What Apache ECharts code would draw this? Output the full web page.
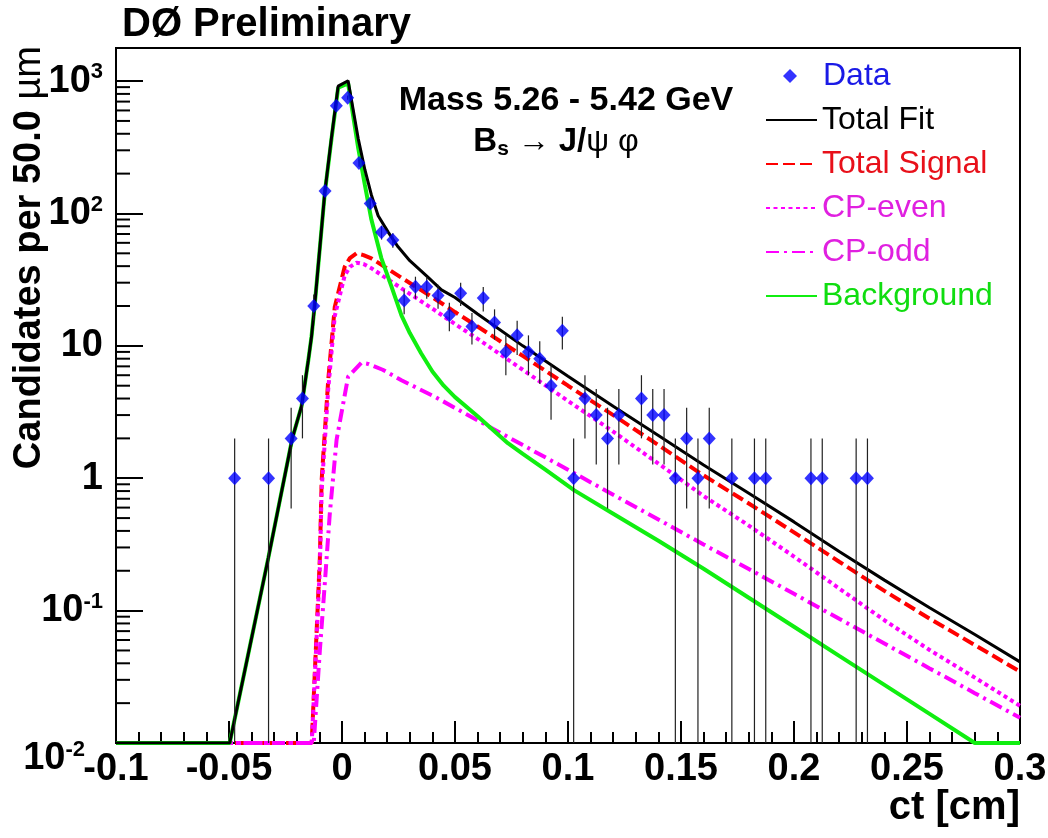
<!DOCTYPE html>
<html><head><meta charset="utf-8">
<script src="https://cdn.jsdelivr.net/npm/echarts@6/dist/echarts.min.js"></script>
<style>html,body{margin:0;padding:0;background:#fff}#c{width:1048px;height:838px}</style>
</head><body><div id="c"></div>
<script>
// ---- data ----
const dataX = [-0.0475,-0.0325,-0.0225,-0.0175,-0.0125,-0.0075,-0.0025,0.0025,0.0075,0.0125,0.0175,0.0225,0.0275,0.0325,0.0375,0.0425,0.0475,0.0525,0.0575,0.0625,0.0675,0.0725,0.0775,0.0825,0.0875,0.0925,0.0975,0.1025,0.1075,0.1125,0.1175,0.1225,0.1325,0.1375,0.1425,0.1475,0.1525,0.1575,0.1625,0.1725,0.1825,0.1875,0.2075,0.2125,0.2275,0.2325];
const dataY = [1,1,2,4,20,148,650,750,241,119,72,63,22,28,28,24,17,25,14,23,15,9,12,9,8,5,13,1,4,3,2,3,4,3,3,1,2,1,2,1,1,1,1,1,1,1];
const dataErr = [1,1,1.41,2,4.47,12.17,25.5,27.39,15.52,10.91,8.49,7.94,4.69,5.29,5.29,4.9,4.12,5,3.74,4.8,3.87,3,3.46,3,2.83,2.24,3.61,1,2,1.73,1.41,1.73,2,1.73,1.73,1,1.41,1,1.41,1,1,1,1,1,1,1];

const fitX = [-0.1,-0.0497,-0.0326,-0.022,-0.0179,-0.0149,-0.0135,-0.012,-0.0076,-0.0046,-0.0017,0.0027,0.0072,0.0101,0.013,0.016,0.0205,0.0248,0.03,0.038,0.044,0.05,0.06,0.08,0.1,0.12,0.14,0.16,0.18,0.2,0.22,0.24,0.26,0.28,0.3];
const fitY = [0.01,0.01,0.25,2.0,3.5,7.8,11.7,21,145,380,916,1005,366,215,138,96,72,56,44,33,26.5,23.2,17.4,10,5.9,3.5,2.1,1.26,0.77,0.468,0.28,0.17,0.105,0.066,0.041];

const sigX = [-0.1,-0.0134,-0.0098,-0.009,-0.0061,-0.0032,0.0012,0.0035,0.0064,0.0095,0.013,0.018,0.0263,0.041,0.05,0.06,0.08,0.1,0.12,0.14,0.16,0.18,0.2,0.22,0.24,0.26,0.28,0.3];
const sigY = [0.01,0.01,0.25,0.97,5.5,19.7,39.6,46,50,48.5,45.8,40.4,32.7,22.7,18.0,14.0,8.4,5.0,3.0,1.78,1.05,0.645,0.39,0.234,0.141,0.087,0.055,0.0346];

const evenX = [-0.1,-0.0134,-0.0098,-0.009,-0.0061,-0.0032,0.0012,0.0035,0.0064,0.0095,0.013,0.018,0.0263,0.041,0.05,0.06,0.08,0.1,0.12,0.14,0.16,0.18,0.2,0.22,0.24,0.26,0.28,0.3];
const evenY = [0.01,0.01,0.21,0.82,4.7,16.8,34,39.5,42.5,41.5,38.6,33.8,27.2,18.6,14.6,11.3,6.6,3.84,2.25,1.29,0.734,0.439,0.256,0.147,0.0846,0.0504,0.0312,0.0191];

const oddX = [-0.1,-0.0125,-0.0098,-0.0075,-0.0054,-0.0024,0.0027,0.0086,0.0116,0.018,0.0263,0.041,0.05,0.06,0.08,0.1,0.12,0.14,0.16,0.18,0.2,0.22,0.24,0.26,0.28,0.3];
const oddY = [0.01,0.01,0.05,0.17,0.54,1.95,5.85,7.45,7.3,6.6,5.5,4.13,3.4,2.74,1.78,1.16,0.75,0.488,0.316,0.206,0.134,0.0867,0.0564,0.0366,0.0238,0.0155];

const bkgX = [-0.1,-0.0497,-0.0326,-0.022,-0.0179,-0.0149,-0.0135,-0.012,-0.0076,-0.0046,-0.0017,0.0027,0.0072,0.0101,0.013,0.0174,0.0219,0.0263,0.03,0.035,0.04,0.045,0.05,0.06,0.0734,0.08,0.09,0.1028,0.12,0.14,0.16,0.18,0.2,0.22,0.24,0.26,0.28,0.3];
const bkgY = [0.01,0.01,0.25,2.0,3.5,7.8,11.7,21,144,372,890,960,310,165,90,46,28,17,12.5,8.8,6.4,5.0,4.1,2.94,1.84,1.53,1.16,0.81,0.54,0.337,0.207,0.125,0.0755,0.0455,0.0275,0.0166,0.01,0.01];

const yMinorTicks = [0.02,0.03,0.04,0.05,0.06,0.07,0.08,0.09,0.2,0.3,0.4,0.5,0.6,0.7,0.8,0.9,2,3,4,5,6,7,8,9,20,30,40,50,60,70,80,90,200,300,400,500,600,700,800,900];

const X_MIN = -0.1, X_MAX = 0.3, Y_MIN = 0.01, Y_MAX = 1778;
const FONT = '"Liberation Sans", Arial, Helvetica, sans-serif';

const COL = {data:'#0000ff', fit:'#000000', sig:'#ff0000', cp:'#ff00ff', bkg:'#10ee10'};

function pairs(xs, ys){ return xs.map(function(x,i){ return [x, ys[i]]; }); }

const chart = echarts.init(document.getElementById('c'), null, {renderer:'canvas'});

function lineSeries(name, xs, ys, color, width, type){
  return {name:name, type:'line', data:pairs(xs, ys), symbol:'none', showSymbol:false,
    smooth:false, clip:true, z:2,
    lineStyle:{color:color, width:width, type:type, cap:'butt'}, itemStyle:{color:color}};
}
const noSym = {opacity:0};
const legendText = {fontSize:32, fontFamily:FONT, lineHeight:32};

const option = {
  animation:false,
  backgroundColor:'#ffffff',
  grid:{left:116, right:28, top:48, bottom:95, containLabel:false, outerBoundsMode:'none',
    show:true, borderColor:'#000', borderWidth:2, backgroundColor:'transparent'},
  xAxis:{type:'value', min:X_MIN, max:X_MAX, interval:0.05,
    axisLine:{show:true, onZero:false, lineStyle:{color:'#000', width:2}},
    axisTick:{show:true, inside:true, length:22, lineStyle:{color:'#000', width:2}},
    minorTick:{show:true, splitNumber:5, length:11, lineStyle:{color:'#000', width:2}},
    splitLine:{show:false}, minorSplitLine:{show:false},
    axisLabel:{fontSize:38, fontWeight:'bold', color:'#000', fontFamily:FONT, margin:8, hideOverlap:false}
  },
  yAxis:{type:'log', logBase:10, min:Y_MIN, max:Y_MAX,
    axisLine:{show:true, onZero:false, lineStyle:{color:'#000', width:2}},
    axisTick:{show:true, inside:true, length:27, lineStyle:{color:'#000', width:2}},
    splitLine:{show:false},
    axisLabel:{margin:13, showMinLabel:true, showMaxLabel:true, hideOverlap:false,
      formatter:function(v){
        const l = Math.log10(v), e = Math.round(l);
        if (Math.abs(l - e) > 1e-6) return '';
        if (e === 0) return '{b|1}';
        if (e === 1) return '{b|10}';
        if (e === -2) return '{e| }\n{b|10}{s|-2}{p| }';
        return '{b|10}{s|' + e + '}';
      },
      rich:{
        b:{fontSize:38, fontWeight:'bold', color:'#000', fontFamily:FONT, lineHeight:40},
        s:{fontSize:22, fontWeight:'bold', color:'#000', fontFamily:FONT, lineHeight:22, verticalAlign:'top'},
        e:{fontSize:10, lineHeight:32},
        p:{fontSize:10, width:18}
      }
    }
  },
  legend:[
    {show:true, left:783, top:60, padding:0, orient:'vertical', itemWidth:14, itemHeight:14, selectedMode:false,
      textStyle:Object.assign({padding:[0,0,0,21]}, legendText),
      data:[{name:'Data', icon:'diamond', textStyle:{color:'#1a1ae6'}}]},
    {show:true, left:765, top:104, padding:0, orient:'vertical', itemWidth:51, itemHeight:14, itemGap:12,
      selectedMode:false, textStyle:legendText,
      data:[
        {name:'Total Fit', itemStyle:noSym, textStyle:{color:'#000'}},
        {name:'Total Signal', itemStyle:noSym, textStyle:{color:'#e8101a'}},
        {name:'CP-even', itemStyle:noSym, textStyle:{color:'#e020e0'}},
        {name:'CP-odd', itemStyle:noSym, textStyle:{color:'#e020e0'}},
        {name:'Background', itemStyle:noSym, textStyle:{color:'#10dd10'}}
      ]}
  ],
  graphic:[
    {type:'text', x:122, y:25, style:{text:'DØ Preliminary', font:'bold 40px ' + FONT, fill:'#000', verticalAlign:'middle', align:'left'}},
    {type:'text', x:566, y:101, style:{text:'Mass 5.26 - 5.42 GeV', font:'bold 34px ' + FONT, fill:'#000', verticalAlign:'middle', align:'center'}},
    {type:'text', x:556, y:142, style:{
      text:'{b|B}{sub|s}{r| → }{b|J/}{r|ψ φ}', align:'center', verticalAlign:'middle',
      rich:{
        b:{fontSize:33, fontWeight:'bold', fontFamily:FONT, fill:'#000', lineHeight:36, verticalAlign:'middle'},
        sub:{fontSize:21, fontWeight:'bold', fontFamily:FONT, fill:'#000', lineHeight:20, verticalAlign:'bottom'},
        r:{fontSize:32, fontFamily:FONT, fill:'#000', lineHeight:36, verticalAlign:'middle'}
      }}},
    {type:'text', x:1020, y:808, style:{text:'ct [cm]', font:'bold 40px ' + FONT, fill:'#000', verticalAlign:'middle', align:'right'}},
    {type:'text', x:30, y:46, rotation:Math.PI/2, style:{
      text:'{a|Candidates per 50.0 }{m|µm}', align:'right', verticalAlign:'middle',
      rich:{
        a:{fontSize:38, fontWeight:'bold', fontFamily:FONT, fill:'#000'},
        m:{fontSize:38, fontWeight:'normal', fontFamily:FONT, fill:'#000'}
      }}}
  ],
  series:[
    lineSeries('Total Signal', sigX, sigY, COL.sig, 4, [12,5]),
    lineSeries('CP-even', evenX, evenY, COL.cp, 4, [4,3.5]),
    lineSeries('CP-odd', oddX, oddY, COL.cp, 4, [13,5,3,5]),
    lineSeries('Background', bkgX, bkgY, COL.bkg, 4, 'solid'),
    lineSeries('Total Fit', fitX, fitY, COL.fit, 3, 'solid'),
    {type:'custom', name:'yMinor', silent:true, clip:true, z:3,
      data:yMinorTicks.map(function(v){ return [X_MIN, v]; }),
      encode:{x:0, y:1},
      renderItem:function(params, api){
        const p = api.coord([api.value(0), api.value(1)]);
        return {type:'line', shape:{x1:p[0], y1:p[1], x2:p[0]+14, y2:p[1]}, style:{stroke:'#000', lineWidth:2}};
      }},
    {type:'custom', name:'errors', silent:true, clip:true, z:3,
      data:dataX.map(function(x,i){ return [x, Math.max(dataY[i]-dataErr[i], Y_MIN), dataY[i]+dataErr[i]]; }),
      encode:{x:0, y:[1,2]},
      renderItem:function(params, api){
        const a = api.coord([api.value(0), api.value(1)]);
        const b = api.coord([api.value(0), api.value(2)]);
        return {type:'line', shape:{x1:a[0], y1:a[1], x2:b[0], y2:b[1]}, style:{stroke:'#222', lineWidth:1.2}};
      }},
    {name:'Data', type:'scatter', data:pairs(dataX, dataY), symbol:'diamond', symbolSize:[13,14], z:4,
      itemStyle:{color:COL.data}}
  ]
};
chart.setOption(option);
</script>
</body></html>
